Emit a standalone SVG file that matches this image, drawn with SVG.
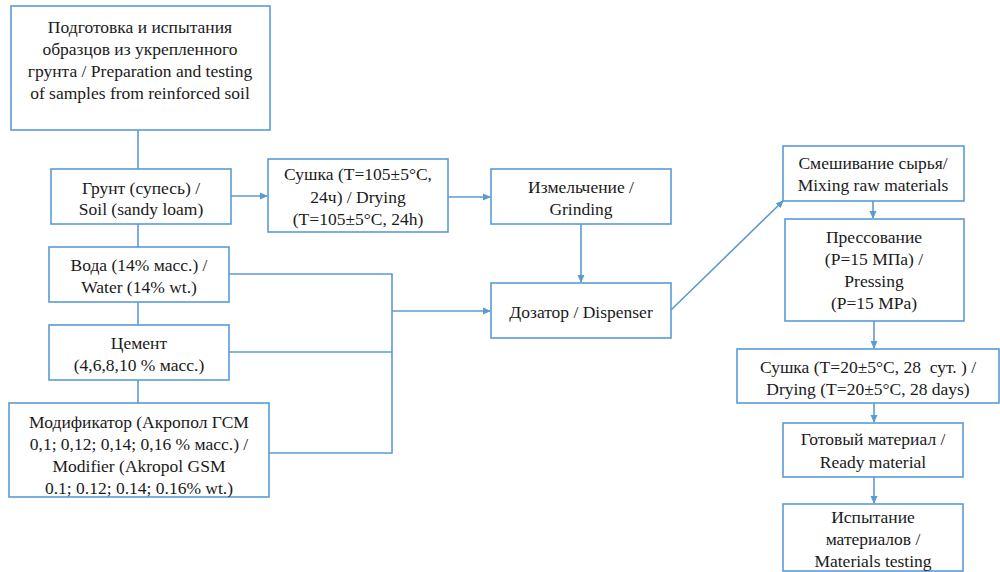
<svg xmlns="http://www.w3.org/2000/svg" width="1000" height="572" viewBox="0 0 1000 572">
<style>
.box{fill:#fff;stroke:#5b9bd5;stroke-width:1.6}
.ln{fill:none;stroke:#5b9bd5;stroke-width:1.6}
text{font-family:'Liberation Serif','Times New Roman',Tinos,'Noto Serif','DejaVu Serif',FreeSerif,serif;font-size:17.5px;fill:#1a1a1a;text-anchor:middle;dominant-baseline:central;white-space:pre}
</style>
<defs>
<marker id="ar" markerWidth="8" markerHeight="8" refX="7" refY="4" orient="auto" markerUnits="userSpaceOnUse">
<path d="M0,0.5 L8,4 L0,7.5 Z" fill="#5b9bd5"/>
</marker>
</defs>
<g id="connectors">
<line class="ln" x1="138" y1="130" x2="138" y2="169"/>
<line class="ln" x1="138" y1="224" x2="138" y2="247"/>
<line class="ln" x1="138" y1="302" x2="138" y2="325"/>
<line class="ln" x1="138" y1="380" x2="138" y2="403"/>
<line class="ln" x1="231" y1="196" x2="267" y2="196" marker-end="url(#ar)"/>
<line class="ln" x1="448" y1="197" x2="490" y2="197" marker-end="url(#ar)"/>
<line class="ln" x1="581" y1="224" x2="581" y2="282" marker-end="url(#ar)"/>
<polyline class="ln" points="229,274 392,274 392,453 269,453"/>
<line class="ln" x1="229" y1="352" x2="392" y2="352"/>
<line class="ln" x1="392" y1="311" x2="490" y2="311" marker-end="url(#ar)"/>
<line class="ln" x1="671" y1="310" x2="783" y2="201" marker-end="url(#ar)"/>
<line class="ln" x1="873" y1="201" x2="873" y2="218" marker-end="url(#ar)"/>
<line class="ln" x1="874" y1="321" x2="874" y2="348" marker-end="url(#ar)"/>
<line class="ln" x1="874" y1="403" x2="874" y2="422" marker-end="url(#ar)"/>
<line class="ln" x1="874" y1="477" x2="874" y2="503" marker-end="url(#ar)"/>
</g>
<g id="n-prep">
<rect class="box" x="11" y="6" width="259" height="124"/>
<text x="140" y="27">Подготовка и испытания</text>
<text x="140" y="49">образцов из укрепленного</text>
<text x="140" y="71">грунта / Preparation and testing</text>
<text x="140" y="93">of samples from reinforced soil</text>
</g>
<g id="n-soil">
<rect class="box" x="51" y="169" width="180" height="55"/>
<text x="141" y="188">Грунт (супесь) /</text>
<text x="141" y="209">Soil (sandy loam)</text>
</g>
<g id="n-drying1">
<rect class="box" x="268" y="159" width="180" height="73"/>
<text x="358" y="174">Сушка (T=105±5°C,</text>
<text x="358" y="197">24ч) / Drying</text>
<text x="358" y="219">(T=105±5°C, 24h)</text>
</g>
<g id="n-grinding">
<rect class="box" x="491" y="169" width="180" height="55"/>
<text x="581" y="187">Измельчение /</text>
<text x="581" y="209">Grinding</text>
</g>
<g id="n-water">
<rect class="box" x="49" y="247" width="180" height="55"/>
<text x="139" y="265">Вода (14% масс.) /</text>
<text x="139" y="287">Water (14% wt.)</text>
</g>
<g id="n-cement">
<rect class="box" x="49" y="325" width="180" height="55"/>
<text x="139" y="343">Цемент</text>
<text x="139" y="365">(4,6,8,10 % масс.)</text>
</g>
<g id="n-modifier">
<rect class="box" x="9" y="403" width="260" height="94"/>
<text x="139" y="422">Модификатор (Акропол ГСМ</text>
<text x="139" y="444">0,1; 0,12; 0,14; 0,16 % масс.) /</text>
<text x="139" y="466">Modifier (Akropol GSM</text>
<text x="139" y="488">0.1; 0.12; 0.14; 0.16% wt.)</text>
</g>
<g id="n-dispenser">
<rect class="box" x="491" y="283" width="180" height="55"/>
<text x="581" y="312">Дозатор / Dispenser</text>
</g>
<g id="n-mixing">
<rect class="box" x="783" y="146" width="181" height="55"/>
<text x="873" y="163">Смешивание сырья/</text>
<text x="873" y="185">Mixing raw materials</text>
</g>
<g id="n-pressing">
<rect class="box" x="785" y="219" width="179" height="102"/>
<text x="874" y="237">Прессование</text>
<text x="874" y="259">(P=15 МПа) /</text>
<text x="874" y="281">Pressing</text>
<text x="874" y="303">(P=15 MPa)</text>
</g>
<g id="n-drying2">
<rect class="box" x="737" y="349" width="262" height="54"/>
<text x="868" y="367" xml:space="preserve">Сушка (T=20±5°C, 28  сут. ) /</text>
<text x="868" y="389">Drying (T=20±5°C, 28 days)</text>
</g>
<g id="n-ready">
<rect class="box" x="783" y="423" width="180" height="54"/>
<text x="873" y="439">Готовый материал /</text>
<text x="873" y="462">Ready material</text>
</g>
<g id="n-testing">
<rect class="box" x="783" y="504" width="180" height="67"/>
<text x="873" y="517">Испытание</text>
<text x="873" y="539">материалов /</text>
<text x="873" y="561">Materials testing</text>
</g>
</svg>
